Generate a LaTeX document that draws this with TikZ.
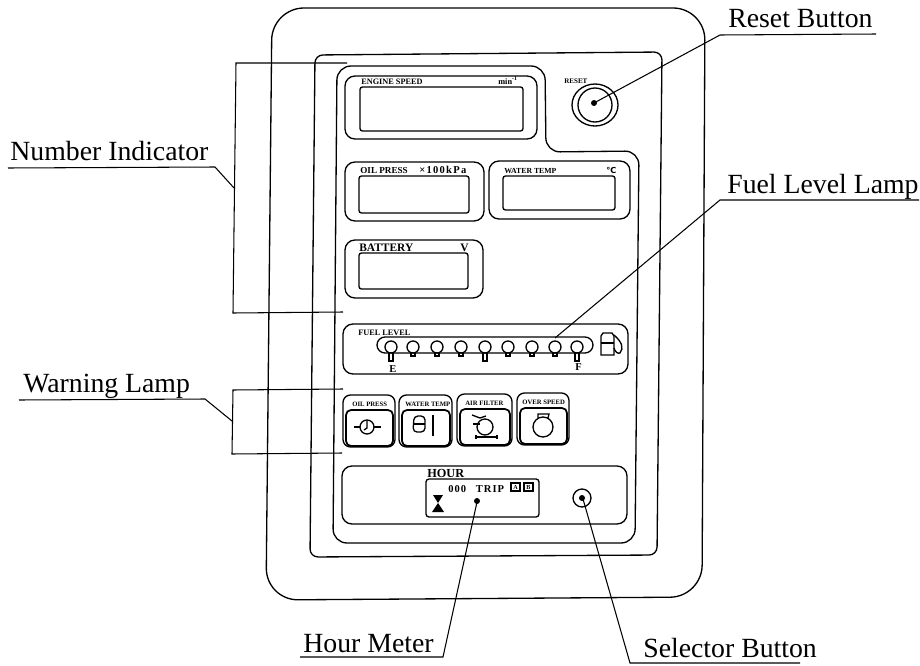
\documentclass[tikz,border=0pt]{standalone}
\usepackage{fontspec}
\setmainfont{Liberation Serif}
\newfontfamily\symbolfont{DejaVu Sans}
\tikzset{
	panel/.style={line width=0.75pt},
	leader/.style={line width=0.6pt},
	callout/.style={font=\fontsize{15.8}{18}\selectfont, anchor=base west, inner sep=0pt},
	tiny/.style={font=\fontsize{4.7}{5}\selectfont\bfseries, anchor=base west, inner sep=0pt},
	small/.style={font=\fontsize{6}{7}\selectfont\bfseries, anchor=base west, inner sep=0pt},
	lamptext/.style={font=\fontsize{3.8}{4}\selectfont\bfseries, anchor=base west, inner sep=0pt}
}
\newcommand{\display}[8] % outer x1 y1 x2 y2, window x1 y1 x2 y2
{
	% housing
	\draw[panel, rounded corners=0.2cm] (#1,#2) rectangle (#3,#4);
	% window
	\draw[panel, rounded corners=0.05cm] (#5,#6) rectangle (#7,#8);
}
\newcommand{\lamp}[2] % x, stem end y
{
	\draw[panel] (#1,347) circle (6);
	\draw[panel] (#1-2,353) -- (#1-2,#2) -- (#1+2,#2) -- (#1+2,353);
}
\newcommand{\warnbox}[4] % x1, x2, top y, bottom y
{
	\draw[panel, rounded corners=0.15cm] (#1,#3) rectangle (#2,#4);
	\draw[line width=1pt, rounded corners=0.1cm] (#1+3,#3+15) rectangle (#2-2,#4-1);
}
\begin{document}
\begin{tikzpicture}[x=0.02cm,y=-0.02cm]
	\useasboundingbox (0,0) rectangle (920,666);
	% case and panel contours
	\draw[panel, rounded corners=0.64cm] (272,8) -- (705,8) -- (702,597) -- (266,600) -- cycle;
	\draw[panel, rounded corners=0.16cm] (315,55) -- (662,52) -- (657,555) -- (310,557) -- cycle;
	\draw[panel, rounded corners=0.28cm] (337,66) -- (545,66) -- (546,152) -- (639,151) -- (635,543) -- (333,543) -- cycle;

	% number indicators
	\display{345}{76}{537}{139}{360}{87}{523}{131}
	\display{345}{162}{484}{221}{359}{176}{469}{213}
	\display{489}{161}{630}{219}{503}{176}{615}{210}
	\display{345}{240}{483}{298}{359}{253}{468}{289}
	\node[tiny] (enginetext) at (361,84) {ENGINE SPEED};
	\node[tiny] (enginemin) at (498,84) {min\textsuperscript{-1}};
	\node[small, font=\fontsize{5.2}{6}\selectfont\bfseries] (oiltext) at (360,173) {OIL PRESS};
	\node[small] (oilunit) at (419,173) {\addfontfeatures{LetterSpace=12}×100kPa};
	\node[tiny, font=\fontsize{4.4}{5}\selectfont\bfseries] (watertext) at (504,173) {WATER TEMP};
	\node[tiny] (waterunit) at (606,173) {\symbolfont ℃};
	\node[font=\fontsize{6.5}{8}\selectfont\bfseries, anchor=base west, inner sep=0pt] (batterytext) at (359,251) {BATTERY};
	\node[font=\fontsize{6.5}{8}\selectfont\bfseries, anchor=base west, inner sep=0pt] (batteryunit) at (460,251) {V};

	% reset button
	\node[tiny, font=\fontsize{4}{5}\selectfont\bfseries] (resettext) at (564,83) {RESET};
	\draw[panel] (595,105) ellipse (23 and 21);
	\draw[panel] (595,105) circle (17);
	\fill (594,103) circle (3);

	% fuel level
	\draw[panel, rounded corners=0.2cm] (343,324) rectangle (628,374);
	\draw[panel, rounded corners=0.16cm] (377,337) rectangle (593,353);
	\lamp{391}{361}
	\lamp{413}{356}
	\lamp{437}{356}
	\lamp{461}{356}
	\lamp{485}{361}
	\lamp{508}{356}
	\lamp{532}{356}
	\lamp{555}{356}
	\lamp{577}{361}
	\node[tiny] (fueltext) at (358,335) {FUEL LEVEL};
	\node[small] (emptytext) at (389,372) {E};
	\node[small] (fulltext) at (575,370) {F};
	% pump
	\draw[panel] (601,355) -- (601,336) -- (603,333) -- (612,333) -- (614,336) -- (614,355) -- cycle;
	\draw[panel] (601,343) -- (614,343);
	\draw[panel] (614,335) .. controls (622,342) and (624,348) .. (620,353) .. controls (618,354) and (615,352) .. (614,348);

	% warning lamps
	\warnbox{343}{395}{395}{447}
	\warnbox{399}{452}{395}{447}
	\warnbox{457}{512}{394}{446}
	\warnbox{517}{569}{393}{445}
	\node[lamptext] (oillamp) at (352,406) {OIL PRESS};
	\node[lamptext] (waterlamp) at (405,406) {WATER TEMP};
	\node[lamptext] (airlamp) at (465,405) {AIR FILTER};
	\node[lamptext] (overlamp) at (522,404) {OVER SPEED};
	% oil icon
	\draw[panel] (367,427) circle (7);
	\draw[panel] (354,427) -- (360,427);
	\draw[panel] (374,427) -- (381,427);
	\draw[panel] (367,421) -- (367,428) -- (364,430);
	% water icon
	\draw[panel, rounded corners=0.08cm] (414,416) -- (413,432) -- (425,432) -- (425,416) -- cycle;
	\draw[panel] (413,424) -- (425,424);
	\draw[line width=1.4pt] (433,415) -- (433,436);
	% filter icon
	\draw[panel] (485,427) circle (8);
	\draw[panel] (472,415) -- (480,418) -- (486,416);
	\draw[panel] (473,424) -- (480,424);
	\draw[panel] (476,437) -- (497,437);
	\draw[panel] (476,435) -- (476,439);
	\draw[panel] (497,435) -- (497,439);
	% overspeed icon
	\draw[panel] (543,427) circle (10);
	\draw[panel] (538,418) -- (538,414) -- (549,414) -- (548,418);

	% hour meter
	\draw[panel, rounded corners=0.2cm] (342,466) rectangle (627,524);
	\draw[panel, rounded corners=0.06cm] (426,479) rectangle (539,517);
	\node[font=\fontsize{7}{9}\selectfont\bfseries, anchor=base west, inner sep=0pt] (hourtext) at (427,477) {HOUR};
	\node[small] (triptext) at (448,492) {\addfontfeatures{LetterSpace=10}000\hspace{0.9em}TRIP};
	\draw[panel] (511,483) rectangle (520,491);
	\draw[panel] (524,483) rectangle (533,491);
	\node[font=\fontsize{3.5}{4}\selectfont\bfseries, inner sep=0pt] (atext) at (515.5,487) {A};
	\node[font=\fontsize{3.5}{4}\selectfont\bfseries, inner sep=0pt] (btext) at (528.5,487) {B};
	% hourglass
	\fill (433,495) -- (443,495) -- (438,503) -- cycle;
	\fill (438,503) -- (444,512) -- (432,512) -- cycle;
	\fill (477,501) circle (3);
	\draw[panel] (582,498) circle (9);
	\fill (582,498) circle (3);

	% callouts
	\node[callout] (number) at (10,160) {Number Indicator};
	\node[callout] (warning) at (23,392) {Warning Lamp};
	\node[callout] (reset) at (728,28) {Reset Button};
	\node[callout] (fuel) at (727,193) {Fuel Level Lamp};
	\node[callout] (hourmeter) at (303,652) {Hour Meter};
	\node[callout] (selector) at (643,657) {Selector Button};

	% leader lines
	\coordinate (numberstart) at (8,168);
	\coordinate (numberknee) at (215,167);
	\coordinate (numberend) at (234,188);
	\coordinate (numbertop) at (347,63);
	\coordinate (numberbottom) at (343,312);
	\draw[leader] (numberstart) -- (numberknee) -- (numberend);
	\draw[leader] (numbertop) -- (236,63) -- (233,313) -- (numberbottom);
	\coordinate (warningstart) at (19,400);
	\coordinate (warningknee) at (205,399);
	\coordinate (warningend) at (232,421);
	\coordinate (warningtop) at (343,389);
	\coordinate (warningbottom) at (342,453);
	\draw[leader] (warningstart) -- (warningknee) -- (warningend);
	\draw[leader] (warningtop) -- (233,390) -- (232,454) -- (warningbottom);
	\coordinate (resetstart) at (876,34);
	\coordinate (resetknee) at (720,35);
	\coordinate (resetend) at (594,103);
	\draw[leader] (resetstart) -- (resetknee) -- (resetend);
	\coordinate (fuelstart) at (919,200);
	\coordinate (fuelknee) at (720,200);
	\coordinate (fuelend) at (555,338);
	\draw[leader] (fuelstart) -- (fuelknee) -- (fuelend);
	\coordinate (hourstart) at (300,657);
	\coordinate (hourknee) at (443,657);
	\coordinate (hourend) at (477,502);
	\draw[leader] (hourstart) -- (hourknee) -- (hourend);
	\coordinate (selectorstart) at (800,663);
	\coordinate (selectorknee) at (630,663);
	\coordinate (selectorend) at (583,499);
	\draw[leader] (selectorstart) -- (selectorknee) -- (selectorend);
\end{tikzpicture}
\end{document}
